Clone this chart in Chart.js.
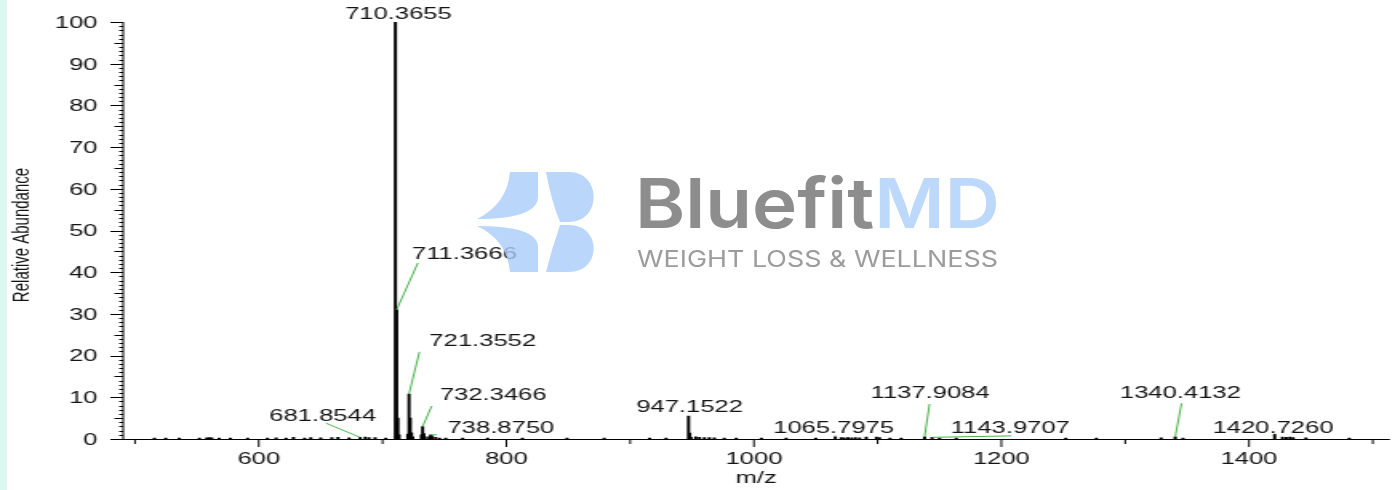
<!DOCTYPE html>
<html>
<head>
<meta charset="utf-8">
<script src="https://cdn.jsdelivr.net/npm/chart.js@4.4.1/dist/chart.umd.min.js"></script>
<style>
  html, body { margin: 0; padding: 0; }
  body { width: 1395px; height: 490px; overflow: hidden; background: #dcf6f0; position: relative; }
  #paper { position: absolute; left: 7px; top: 0; width: 1388px; height: 490px; background: #fff; }
  /* the original picture is stretched sideways, so the chart is drawn narrow and widened */
  #stretch { position: absolute; left: 0; top: 0; width: 872px; height: 490px; transform: scaleX(1.5998); transform-origin: 0 0; }
  #logo { position: absolute; left: 0; top: 0; }
</style>
</head>
<body>
<div id="paper"></div>
<div id="stretch"><canvas id="spectrum" width="872" height="490"></canvas></div>
<canvas id="logo" width="1395" height="490"></canvas>
<script>
// Espectro de masas: m/z y abundancia relativa (%)
const peakMz = [
    515.7, 524.8, 535.8, 552, 558, 560, 562, 568, 577, 591, 607, 614, 622, 628, 637, 642, 650, 659, 664, 673,
    681.8544, 686, 689, 694, 702.6,
    710.3655, 711.3666, 712.37, 713.37, 720.35, 721.3552, 722.36, 723.36, 724.4,
    731.35, 732.3466, 733.35, 734.35, 737.5, 738.8750, 739.38, 740.4, 743, 746, 751,
    764.7, 784.8, 813, 849, 879, 915.7, 929,
    947.1522, 948.15, 949.15, 953, 956, 960, 964, 968, 976, 985.7, 1006, 1026, 1050,
    1065.7975, 1070.6, 1073, 1076, 1079, 1082, 1085.4, 1090.8, 1099, 1101.5, 1110, 1119,
    1137.9084, 1143.9707, 1150, 1163.5, 1252, 1276.7, 1329, 1340.4132, 1346.7,
    1420.7260, 1427, 1430, 1433, 1435.6, 1446, 1481
];
const peakAbund = [
    0.25, 0.2, 0.25, 0.2, 0.3, 0.35, 0.3, 0.2, 0.25, 0.25, 0.25, 0.3, 0.25, 0.4, 0.25, 0.35, 0.3, 0.35, 0.4, 0.3,
    0.4, 0.45, 0.35, 0.35, 0.25,
    100, 31, 5, 1, 1.2, 10.8, 5, 1.5, 0.5,
    1, 3, 1.3, 0.5, 0.5, 1.0, 0.8, 0.5, 0.4, 0.25, 0.25,
    0.2, 0.2, 0.25, 0.2, 0.25, 0.2, 0.25,
    5.5, 1.4, 0.4, 0.5, 0.4, 0.35, 0.35, 0.3, 0.25, 0.25, 0.2, 0.25, 0.25,
    0.5, 0.35, 0.3, 0.35, 0.3, 0.35, 0.3, 0.45, 0.45, 0.35, 0.25, 0.25,
    0.5, 0.4, 0.25, 0.2, 0.25, 0.25, 0.3, 0.5, 0.25,
    1.1, 0.45, 0.4, 0.45, 0.35, 0.3, 0.25
];

// Picos con etiqueta
const labelledMz = [710.3655, 711.3666, 721.3552, 732.3466, 738.8750, 681.8544,
    947.1522, 1065.7975, 1137.9084, 1143.9707, 1340.4132, 1420.7260];

// Ticks de los ejes
const xTickLabels = [600, 800, 1000, 1200, 1400];
const xMinorTicks = [500, 700, 900, 1100, 1300, 1500];
const yTickLabels = [0, 10, 20, 30, 40, 50, 60, 70, 80, 90, 100];
const yMinorTicks = Array.from({ length: 101 }, (_, i) => i);

// Colocación de las etiquetas (centro del texto m/z, línea base, inicio de la guía)
const labelLayout = [
    [712.8, 100.8, null, null],
    [766.1, 43.2, 728.5, 42.2],
    [780.9, 22.3, 729.8, 20.9],
    [789.4, 9.4, 739.7, 7.9],
    [795.6, 1.35, 744.0, 1.0],
    [651.6, 4.4, 654.2, 3.8],
    [948.0, 6.5, null, null],
    [1064.4, 1.35, 1065.8, 0.9],
    [1142.4, 9.75, 1141.9, 8.4],
    [1207.2, 1.35, 1208.0, 0.75],
    [1344.6, 9.75, 1345.5, 8.55],
    [1419.4, 1.4, 1420.7, 1.3]
];

const FONT = '"Liberation Sans", Arial, sans-serif';
const INK = '#141414';
const LEADER = '#46b349';

const spectrumAxes = {
    id: 'spectrumAxes',
    afterDraw(chart) {
        const { ctx, chartArea: a, scales: { x, y } } = chart;
        ctx.save();

        // ejes y marcas
        ctx.strokeStyle = '#000';
        ctx.lineWidth = 1;
        ctx.beginPath();
        ctx.moveTo(a.left + 0.5, a.top);
        ctx.lineTo(a.left + 0.5, a.bottom + 0.5);
        ctx.lineTo(a.right, a.bottom + 0.5);
        yMinorTicks.forEach(v => {
            const py = Math.round(y.getPixelForValue(v)) + 0.5;
            const len = v % 10 === 0 ? 8 : (v % 5 === 0 ? 5.5 : 2.5);
            ctx.moveTo(a.left + 0.5 - len, py);
            ctx.lineTo(a.left + 0.5, py);
        });
        xTickLabels.forEach(v => {
            const px = x.getPixelForValue(v);
            ctx.moveTo(px, a.bottom);
            ctx.lineTo(px, a.bottom + 8);
        });
        xMinorTicks.forEach(v => {
            const px = x.getPixelForValue(v);
            ctx.moveTo(px, a.bottom);
            ctx.lineTo(px, a.bottom + 5);
        });
        ctx.stroke();

        // rótulos de los ticks
        ctx.fillStyle = INK;
        ctx.font = '16px ' + FONT;
        ctx.textAlign = 'right';
        ctx.textBaseline = 'alphabetic';
        yTickLabels.forEach(v => {
            ctx.fillText(String(v), a.left - 15.5, y.getPixelForValue(v) + 5.8);
        });
        ctx.textAlign = 'center';
        xTickLabels.forEach(v => {
            ctx.fillText(String(v), x.getPixelForValue(v), a.bottom + 24.5);
        });

        // títulos de los ejes
        ctx.fillText('m/z', (a.left + a.right) / 2, a.bottom + 44);
        ctx.save();
        ctx.translate(17.5, 235);
        ctx.rotate(-Math.PI / 2);
        ctx.font = '15px ' + FONT;
        ctx.fillText('Relative Abundance', 0, 0);
        ctx.restore();

        // etiquetas de picos y líneas guía
        ctx.font = '16px ' + FONT;
        labelledMz.forEach((mz, i) => {
            const [tx, ty, lx, ly] = labelLayout[i];
            const top = peakAbund[peakMz.indexOf(mz)];
            if (lx !== null) {
                ctx.strokeStyle = LEADER;
                ctx.beginPath();
                ctx.moveTo(x.getPixelForValue(lx), y.getPixelForValue(ly));
                ctx.lineTo(x.getPixelForValue(mz), y.getPixelForValue(top));
                ctx.stroke();
            }
            ctx.fillStyle = INK;
            ctx.fillText(mz.toFixed(4), x.getPixelForValue(tx), y.getPixelForValue(ty));
        });
        ctx.restore();
    }
};

new Chart(document.getElementById('spectrum'), {
    type: 'bar',
    data: {
        datasets: [{
            data: peakMz.map((mz, i) => ({ x: mz, y: peakAbund[i] })),
            backgroundColor: '#000',
            borderWidth: 0,
            barThickness: 1.3
        }]
    },
    options: {
        responsive: false,
        animation: false,
        layout: { padding: { left: 76.5, right: 3.25, top: 22, bottom: 51 } },
        scales: {
            x: { type: 'linear', min: 489.8, max: 1513.8, offset: false, display: false },
            y: { type: 'linear', min: 0, max: 100, display: false }
        },
        plugins: { legend: { display: false }, tooltip: { enabled: false } }
    },
    plugins: [spectrumAxes]
});

// Marca de agua del logotipo (semitransparente sobre el gráfico)
const lg = document.getElementById('logo').getContext('2d');
lg.globalAlpha = 0.8;
lg.fillStyle = '#a9cdfa';
lg.beginPath();
lg.moveTo(510, 172); lg.lineTo(538, 172); lg.lineTo(538, 198);
lg.quadraticCurveTo(536, 219, 477, 219);
lg.quadraticCurveTo(507, 204, 510, 172);
lg.closePath();
lg.moveTo(477, 226);
lg.quadraticCurveTo(536, 226, 538, 246);
lg.lineTo(538, 272); lg.lineTo(510, 272);
lg.quadraticCurveTo(507, 240, 477, 226);
lg.closePath();
lg.moveTo(546, 172); lg.lineTo(569, 172);
lg.bezierCurveTo(602, 172, 602, 222, 569, 222);
lg.lineTo(560, 222);
lg.quadraticCurveTo(551, 200, 546, 172);
lg.closePath();
lg.moveTo(560, 225); lg.lineTo(569, 225);
lg.bezierCurveTo(602, 225, 602, 272, 569, 272);
lg.lineTo(546, 272);
lg.quadraticCurveTo(552, 248, 560, 225);
lg.closePath();
lg.fill();
lg.globalAlpha = 1;

function fitText(ctx, text, left, baseline, width) {
    const w = ctx.measureText(text).width;
    ctx.save();
    ctx.translate(left, baseline);
    ctx.scale(width / w, 1);
    ctx.fillText(text, 0, 0);
    ctx.restore();
}

lg.font = '600 69px Inter, "Open Sans", sans-serif';
const full = lg.measureText('BluefitMD').width;
const k = 365 / full;
lg.fillStyle = '#8d8d8d';
fitText(lg, 'Bluefit', 635, 228, lg.measureText('Bluefit').width * k);
lg.fillStyle = '#bcd8fb';
fitText(lg, 'MD', 635 + lg.measureText('Bluefit').width * k, 228, lg.measureText('MD').width * k);
lg.font = '400 23px Inter, "Open Sans", sans-serif';
lg.fillStyle = '#9c9c9c';
fitText(lg, 'WEIGHT LOSS & WELLNESS', 637, 267, 361);
</script>
</body>
</html>
